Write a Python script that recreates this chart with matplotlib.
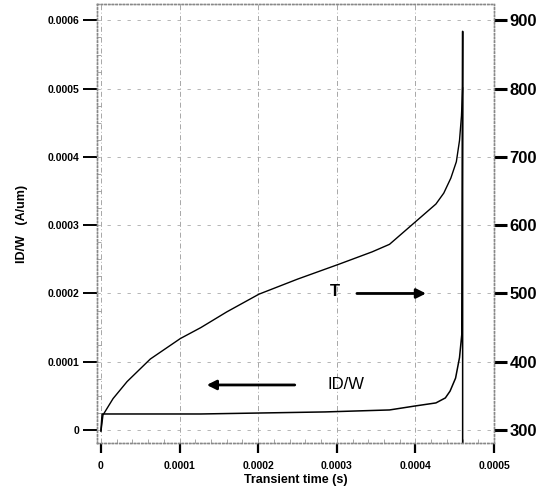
import matplotlib.pyplot as plt
from matplotlib.ticker import AutoMinorLocator

plt.rcParams['font.family'] = ['Liberation Sans', 'DejaVu Sans']
plt.rcParams['font.weight'] = 'bold'

# temperature curve (right axis)
t_time = [0, 2.6e-6, 1.54e-5, 3.33e-5, 6.28e-5, 1.01e-4, 1.27e-4, 1.6e-4, 2.01e-4,
          2.5e-4, 3.03e-4, 3.45e-4, 3.67e-4, 4.26e-4, 4.36e-4, 4.45e-4,
          4.52e-4, 4.56e-4, 4.585e-4, 4.60e-4]
t_vals = [298, 322, 346, 371, 404, 434, 450, 473, 499,
          521, 543, 561, 572, 631, 647, 669, 693, 724, 760, 801]

# drain current per width (left axis)
id_time = [0, 1.5e-6, 1.27e-4, 2.85e-4, 3.67e-4, 4.0e-4, 4.26e-4, 4.38e-4, 4.44e-4,
           4.51e-4, 4.56e-4, 4.59e-4, 4.60e-4, 4.60e-4]
id_vals = [0, 2.35e-5, 2.35e-5, 2.65e-5, 2.94e-5, 3.53e-5, 3.97e-5, 4.7e-5, 5.7e-5,
           7.6e-5, 1.06e-4, 1.41e-4, 5.84e-4, -1e-4]

x_ticks = [0, 0.0001, 0.0002, 0.0003, 0.0004, 0.0005]
x_labels = ['0', '0.0001', '0.0002', '0.0003', '0.0004', '0.0005']
y_ticks = [0, 0.0001, 0.0002, 0.0003, 0.0004, 0.0005, 0.0006]
y_labels = ['0', '0.0001', '0.0002', '0.0003', '0.0004', '0.0005', '0.0006']
t_ticks = [300, 400, 500, 600, 700, 800, 900]

fig = plt.figure(figsize=(5.49, 4.92), dpi=100)
ax = fig.add_axes([0.1767, 0.0996, 0.7233, 0.8923])
ax2 = ax.twinx()

ax.plot(id_time, id_vals, color='black', lw=1.1)
ax2.plot(t_time, t_vals, color='black', lw=1.0)

ax.set_xlim(-0.000005, 0.0005)
ax.set_ylim(-1.9e-5, 6.24e-4)
ax2.set_ylim(281, 924)

ax.set_xticks(x_ticks)
ax.set_xticklabels(x_labels, fontsize=7.5, fontweight='bold')
ax.set_yticks(y_ticks)
ax.set_yticklabels(y_labels, fontsize=7.5, fontweight='bold')
ax2.set_yticks(t_ticks)
ax2.set_yticklabels([str(v) for v in t_ticks], fontsize=12, fontweight='bold')

ax.xaxis.set_minor_locator(AutoMinorLocator(5))
ax.yaxis.set_minor_locator(AutoMinorLocator(4))
ax.tick_params(axis='x', which='major', direction='out', length=7, width=1.6, pad=6)
ax.tick_params(axis='y', which='major', direction='out', length=10, width=1.4, pad=3)
ax.tick_params(which='minor', direction='in', length=3, width=0.6, color='#999999')
ax2.tick_params(axis='y', which='major', direction='out', length=9, width=2.2, pad=2)

ax.grid(True, which='major', axis='x', color='#999999', linestyle=(0, (6, 3, 1, 3)), lw=0.6)
ax.grid(True, which='major', axis='y', color='#aaaaaa', linestyle=(0, (4, 8)), lw=0.6)

for a in (ax, ax2):
    for s in a.spines.values():
        s.set_linestyle(':')
        s.set_color('#888888')
        s.set_linewidth(1.0)

ax.set_xlabel('Transient time (s)', fontsize=9, fontweight='bold', labelpad=2)
ax.set_ylabel('ID/W   (A/um)', fontsize=9, fontweight='bold', labelpad=14)

ax2.annotate('', xy=(0.000417, 500), xytext=(0.000322, 500),
             arrowprops=dict(arrowstyle='-|>', color='black', lw=2, mutation_scale=14))
ax2.text(0.000297, 503, 'T', fontsize=12, fontweight='bold', ha='center', va='center')
ax.annotate('', xy=(0.000131, 6.6e-5), xytext=(0.00025, 6.6e-5),
            arrowprops=dict(arrowstyle='-|>', color='black', lw=2, mutation_scale=14))
ax.text(0.000288, 6.6e-5, 'ID/W', fontsize=12, fontweight='normal', ha='left', va='center')

fig.savefig('out.png', dpi=100)
